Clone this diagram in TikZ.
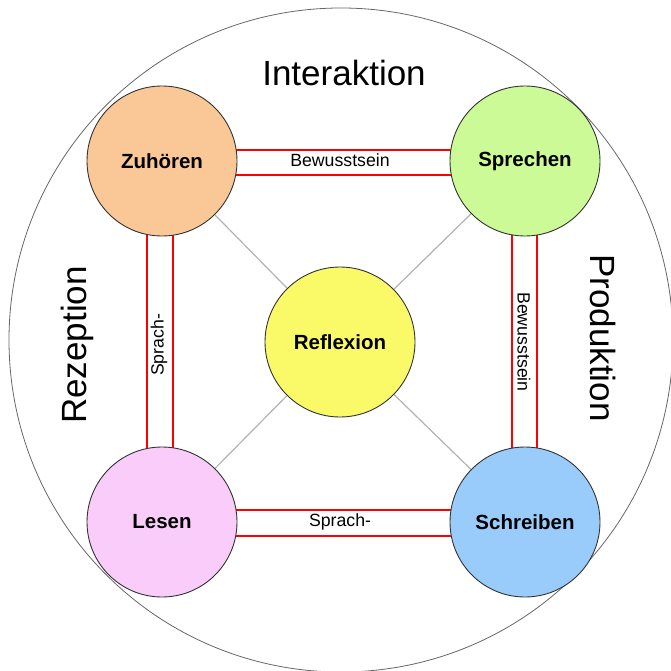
\documentclass[tikz,border=0pt]{standalone}
\usepackage{fontspec}
\setmainfont{Liberation Sans}
\usetikzlibrary{backgrounds}
\definecolor{cZu}{RGB}{250,200,150}
\definecolor{cSp}{RGB}{204,250,150}
\definecolor{cLe}{RGB}{250,204,250}
\definecolor{cSc}{RGB}{153,204,250}
\definecolor{cRe}{RGB}{250,250,105}
\begin{document}
\begin{tikzpicture}[x=1pt,y=-1pt,
  skill/.style={circle,draw=black!80,line width=0.9pt,minimum size=150pt,inner sep=0pt,font=\fontsize{20.5}{24}\selectfont\bfseries},
  band/.style={red,line width=2pt},
  diag/.style={black!30,line width=1.2pt},
  bandlabel/.style={font=\fontsize{17.7}{20}\selectfont,inner sep=0pt},
  biglabel/.style={font=\fontsize{35}{40}\selectfont,inner sep=0pt}]
\useasboundingbox (0,0) rectangle (670,671);
\node[skill,fill=cZu] (zu) at (162,161) {Zuhören};
\node[skill,fill=cSp] (sp) at (525,161) {Sprechen};
\node[skill,fill=cLe] (le) at (162,522) {Lesen};
\node[skill,fill=cSc] (sc) at (525,522) {Schreiben};
\node[skill,fill=cRe] (re) at (340,342) {Reflexion};
\begin{scope}[on background layer]
\node[circle,draw=black!60,line width=0.8pt,minimum size=664pt,inner sep=0pt] (outer) at (341,340) {};
\draw[diag] (zu.center) -- (re.center);
\draw[diag] (sp.center) -- (re.center);
\draw[diag] (le.center) -- (re.center);
\draw[diag] (sc.center) -- (re.center);
\draw[band] ([yshift=11pt]zu.center) -- ([yshift=11pt]sp.center);
\draw[band] ([yshift=-14pt]zu.center) -- ([yshift=-14pt]sp.center);
\draw[band] ([yshift=12pt]le.center) -- ([yshift=12pt]sc.center);
\draw[band] ([yshift=-14pt]le.center) -- ([yshift=-14pt]sc.center);
\draw[band] ([xshift=-15pt]zu.center) -- ([xshift=-15pt]le.center);
\draw[band] ([xshift=11pt]zu.center) -- ([xshift=11pt]le.center);
\draw[band] ([xshift=-13pt]sp.center) -- ([xshift=-13pt]sc.center);
\draw[band] ([xshift=12pt]sp.center) -- ([xshift=12pt]sc.center);
\end{scope}
\node[bandlabel] (bw1) at (340,160) {Bewusstsein};
\node[bandlabel] (sr1) at (340,522) {Sprach-};
\node[bandlabel,rotate=90] (sr2) at (159,345) {Sprach-};
\node[bandlabel,rotate=-90] (bw2) at (524,342) {Bewusstsein};
\node[biglabel] (inter) at (344,73) {Interaktion};
\node[biglabel,rotate=90] (rez) at (77,345) {Rezeption};
\node[biglabel,rotate=-90] (prod) at (603,338) {Produktion};
\end{tikzpicture}
\end{document}
